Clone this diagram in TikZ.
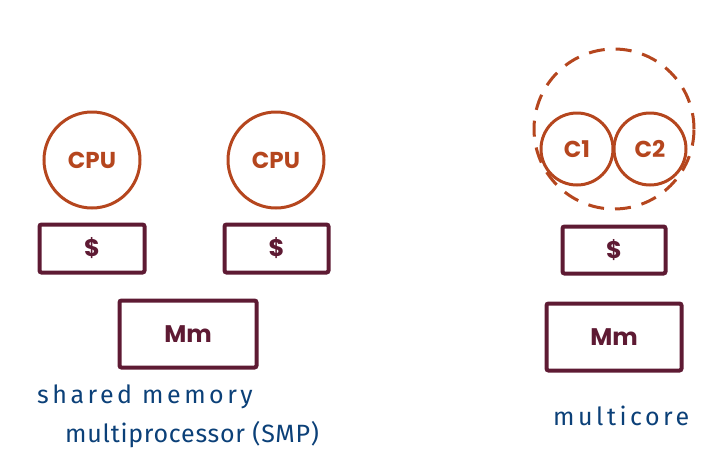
\documentclass[tikz,border=0pt]{standalone}
\usepackage{fontspec}
\setsansfont{Poppins}
\newfontfamily\handfont[LetterSpace=14]{Fira Sans}
\newfontfamily\handtight[LetterSpace=3]{Fira Sans}
\definecolor{corecol}{HTML}{B5461E}
\definecolor{boxcol}{HTML}{5E1A33}
\definecolor{inkcol}{HTML}{0B4078}
\tikzset{
  core/.style={circle,draw=corecol,line width=3pt,text=corecol,inner sep=0pt,font=\sffamily\bfseries\fontsize{23}{26}\selectfont},
  membox/.style={rectangle,draw=boxcol,line width=4pt,rounded corners=2pt,text=boxcol,inner sep=0pt,font=\sffamily\bfseries\fontsize{24}{28}\selectfont},
  hand/.style={text=inkcol,inner sep=0pt,anchor=base west,font=\handfont\fontsize{25}{28}\selectfont}
}
\begin{document}
\begin{tikzpicture}[x=1pt,y=-1pt]
  \useasboundingbox (0,0) rectangle (707,466);
  % shared memory multiprocessor
  \node[core,minimum size=96pt] (cpuA) at (92,160) {CPU};
  \node[core,minimum size=96pt] (cpuB) at (276,160) {CPU};
  \node[membox,minimum width=105pt,minimum height=48pt] (cacheA) at (92,248.5) {\$};
  \node[membox,minimum width=104pt,minimum height=48pt] (cacheB) at (276.5,248.5) {\$};
  \node[membox,minimum width=137pt,minimum height=67pt] (memA) at (188,334) {Mm};
  \node[hand] (smpA) at (37,403) {shared memory};
  \node[hand,font=\handtight\fontsize{25}{28}\selectfont] (smpB) at (65,442) {multiprocessor (SMP)};
  % multicore
  \node[core,minimum size=160pt,dash pattern=on 16pt off 11pt] (chip) at (614,129) {};
  \node[core,minimum size=72pt] (coreA) at (577,149) {C1};
  \node[core,minimum size=72pt] (coreB) at (650,149) {C2};
  \node[membox,minimum width=103pt,minimum height=47pt] (cacheC) at (614,250) {\$};
  \node[membox,minimum width=135pt,minimum height=67pt] (memB) at (614,337) {Mm};
  \node[hand] (mc) at (553,425) {multicore};
\end{tikzpicture}
\end{document}
